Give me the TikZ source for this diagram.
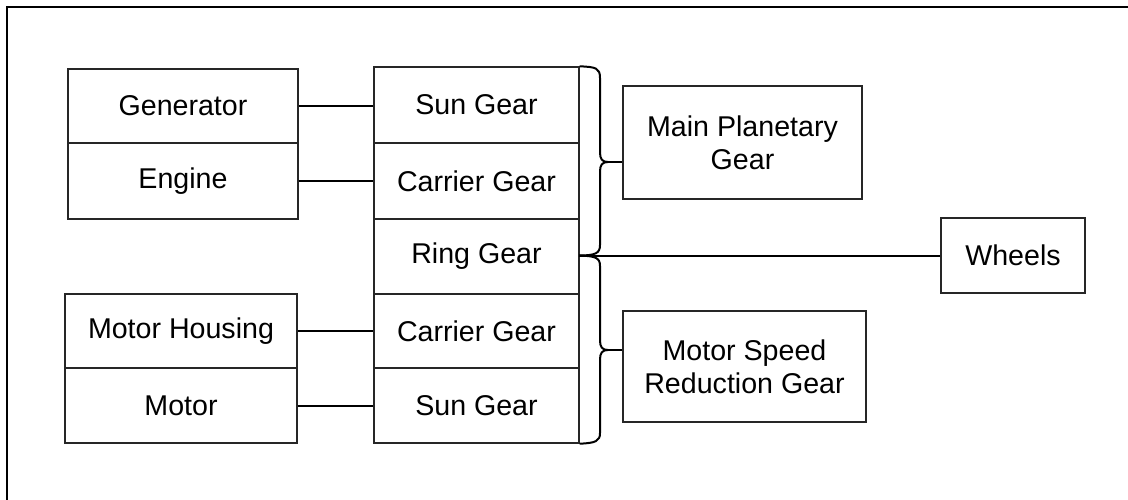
\documentclass[tikz,border=0pt]{standalone}
\usepackage{fontspec}
\setmainfont{Liberation Sans}
\begin{document}
\begin{tikzpicture}[x=1pt,y=-1pt,
  box/.style={draw=black!85,line width=1.4pt,inner sep=0pt,align=center,
    font=\fontsize{28.6}{33}\selectfont},
  link/.style={draw=black,line width=2pt},
  bracefig/.style={draw=black,line width=2pt}]
\useasboundingbox (0,0) rectangle (1128,500);
\draw[line width=2pt] (7,500) -- (7,7) -- (1128,7);
% left column
\node[box,minimum width=230pt,minimum height=74pt] (gen) at (183,106) {Generator};
\node[box,minimum width=230pt,minimum height=76pt] (eng) at (183,181) {Engine};
\node[box,minimum width=232pt,minimum height=74pt] (mh) at (181,331) {Motor Housing};
\node[box,minimum width=232pt,minimum height=75pt] (mot) at (181,405.5) {Motor};
% middle column
\node[box,minimum width=205pt,minimum height=76pt] (sun1) at (476.5,105) {Sun Gear};
\node[box,minimum width=205pt,minimum height=76pt] (car1) at (476.5,181) {Carrier Gear};
\node[box,minimum width=205pt,minimum height=75pt] (ring) at (476.5,256.5) {Ring Gear};
\node[box,minimum width=205pt,minimum height=74pt] (car2) at (476.5,331) {Carrier Gear};
\node[box,minimum width=205pt,minimum height=75pt] (sun2) at (476.5,405.5) {Sun Gear};
% right boxes
\node[box,minimum width=239pt,minimum height=113pt] (mpg) at (742.5,142.5) {Main Planetary\\Gear};
\node[box,minimum width=243pt,minimum height=111pt] (msr) at (744.5,366.5) {Motor Speed\\Reduction Gear};
\node[box,minimum width=144pt,minimum height=75pt] (wh) at (1013,255.5) {Wheels};
% links
\draw[link] (gen.east) -- (gen.east -| sun1.west);
\draw[link] (eng.east) -- (eng.east -| car1.west);
\draw[link] (mh.east) -- (mh.east -| car2.west);
\draw[link] (mot.east) -- (mot.east -| sun2.west);
% braces
\coordinate (t1) at (608,162);
\coordinate (t2) at (608,350);
\coordinate (jn) at (579,255.5);
\draw[bracefig] (sun1.north east) .. controls (596,67) and (600,68) .. (600,78)
  -- (600,152) .. controls (600,159) and (602,162) .. (t1)
  (t1) .. controls (602,162) and (600,165) .. (600,172)
  -- (600,245) .. controls (600,253) and (596,255.5) .. (jn);
\draw[bracefig] (jn) .. controls (596,256) and (600,258) .. (600,266)
  -- (600,340) .. controls (600,347) and (602,350) .. (t2)
  (t2) .. controls (602,350) and (600,353) .. (600,360)
  -- (600,433) .. controls (600,441) and (596,443) .. (sun2.south east);
\draw[link] (t1) -- (t1 -| mpg.west);
\draw[link] (t2) -- (t2 -| msr.west);
\draw[link] (jn) -- (wh.west);
\end{tikzpicture}
\end{document}
